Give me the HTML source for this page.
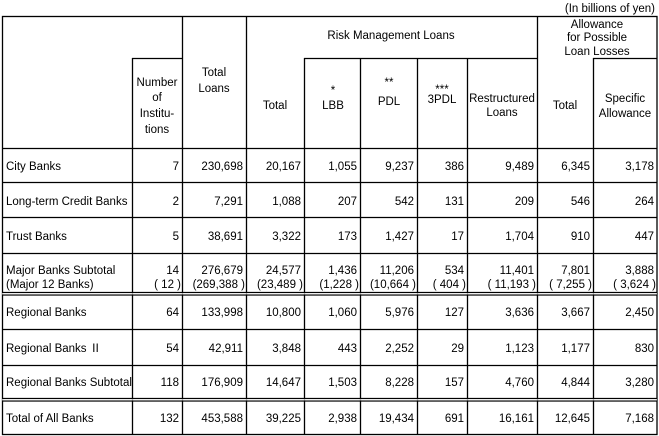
<!DOCTYPE html>
<html><head><meta charset="utf-8"><style>
html,body{margin:0;padding:0;background:#fff;}
svg{display:block;}
text{font-family:"Liberation Sans","Noto Sans CJK JP",sans-serif;font-size:11.5px;fill:#000;}
.r{text-anchor:end}.c{text-anchor:middle}
</style></head><body>
<svg width="659" height="436" xmlns="http://www.w3.org/2000/svg">
<g stroke="#000" stroke-width="1.3" fill="none">
<rect x="2.5" y="16.5" width="654.5" height="418"/>
<line x1="182.5" y1="16" x2="182.5" y2="435"/>
<line x1="246.5" y1="16" x2="246.5" y2="435"/>
<line x1="537.5" y1="16" x2="537.5" y2="435"/>
<line x1="132.5" y1="58" x2="132.5" y2="435"/>
<line x1="304.5" y1="58" x2="304.5" y2="435"/>
<line x1="360.5" y1="58" x2="360.5" y2="435"/>
<line x1="417.5" y1="58" x2="417.5" y2="435"/>
<line x1="467.5" y1="58" x2="467.5" y2="435"/>
<line x1="593.5" y1="58" x2="593.5" y2="435"/>
<line x1="132" y1="58.5" x2="182" y2="58.5"/>
<line x1="304" y1="58.5" x2="537" y2="58.5"/>
<line x1="593" y1="58.5" x2="657" y2="58.5"/>
<line x1="2" y1="148.5" x2="657" y2="148.5"/>
<line x1="2" y1="182.5" x2="657" y2="182.5"/>
<line x1="2" y1="217.5" x2="657" y2="217.5"/>
<line x1="2" y1="253.5" x2="657" y2="253.5"/>
<line x1="2" y1="292.5" x2="657" y2="292.5"/>
<line x1="2" y1="295" x2="657" y2="295"/>
<line x1="2" y1="329.5" x2="657" y2="329.5"/>
<line x1="2" y1="365.5" x2="657" y2="365.5"/>
<line x1="2" y1="398.5" x2="657" y2="398.5"/>
<line x1="2" y1="401" x2="657" y2="401"/>
</g>
<rect x="2" y="293.3" width="655" height="1" fill="#fff"/>
<rect x="2" y="399.3" width="655" height="1" fill="#fff"/>
<text class="r" x="655" y="12">(In billions of yen)</text>
<text class="c" x="391" y="39">Risk Management Loans</text>
<text class="c" x="597" y="28">Allowance</text>
<text class="c" x="597" y="41">for Possible</text>
<text class="c" x="597" y="55">Loan Losses</text>
<text class="c" x="157" y="86">Number</text>
<text class="c" x="157" y="101">of</text>
<text class="c" x="157" y="117">Institu-</text>
<text class="c" x="157" y="133">tions</text>
<text class="c" x="214" y="76">Total</text>
<text class="c" x="214" y="92">Loans</text>
<text class="c" x="275" y="109">Total</text>
<text class="c" x="333" y="94">*</text>
<text class="c" x="333" y="109">LBB</text>
<text class="c" x="389" y="86">**</text>
<text class="c" x="389" y="105">PDL</text>
<text class="c" x="442" y="93">***</text>
<text class="c" x="442" y="103">3PDL</text>
<text class="c" x="502" y="102">Restructured</text>
<text class="c" x="502" y="116">Loans</text>
<text class="c" x="565" y="109">Total</text>
<text class="c" x="625" y="102">Specific</text>
<text class="c" x="625" y="117">Allowance</text>

<g>
<text x="6" y="170">City Banks</text>
<text x="6" y="205">Long-term Credit Banks</text>
<text x="6" y="240">Trust Banks</text>
<text x="6" y="274">Major Banks Subtotal</text>
<text x="6" y="288">(Major 12 Banks)</text>
<text x="6" y="316">Regional Banks</text>
<text x="6" y="352">Regional Banks Ⅱ</text>
<text x="6" y="386">Regional Banks Subtotal</text>
<text x="6" y="422">Total of All Banks</text>
</g>
<g>
<text class="r" x="179" y="170">7</text><text class="r" x="243" y="170">230,698</text><text class="r" x="301" y="170">20,167</text><text class="r" x="357" y="170">1,055</text><text class="r" x="414" y="170">9,237</text><text class="r" x="464" y="170">386</text><text class="r" x="534" y="170">9,489</text><text class="r" x="590" y="170">6,345</text><text class="r" x="654" y="170">3,178</text>
<text class="r" x="179" y="205">2</text><text class="r" x="243" y="205">7,291</text><text class="r" x="301" y="205">1,088</text><text class="r" x="357" y="205">207</text><text class="r" x="414" y="205">542</text><text class="r" x="464" y="205">131</text><text class="r" x="534" y="205">209</text><text class="r" x="590" y="205">546</text><text class="r" x="654" y="205">264</text>
<text class="r" x="179" y="240">5</text><text class="r" x="243" y="240">38,691</text><text class="r" x="301" y="240">3,322</text><text class="r" x="357" y="240">173</text><text class="r" x="414" y="240">1,427</text><text class="r" x="464" y="240">17</text><text class="r" x="534" y="240">1,704</text><text class="r" x="590" y="240">910</text><text class="r" x="654" y="240">447</text>
<text class="r" x="179" y="274">14</text><text class="r" x="243" y="274">276,679</text><text class="r" x="301" y="274">24,577</text><text class="r" x="357" y="274">1,436</text><text class="r" x="414" y="274">11,206</text><text class="r" x="464" y="274">534</text><text class="r" x="534" y="274">11,401</text><text class="r" x="590" y="274">7,801</text><text class="r" x="654" y="274">3,888</text>
<text class="r" x="181" y="288">( 12 )</text><text class="r" x="245" y="288">(269,388 )</text><text class="r" x="303" y="288">(23,489 )</text><text class="r" x="359" y="288">(1,228 )</text><text class="r" x="416" y="288">(10,664 )</text><text class="r" x="466" y="288">( 404 )</text><text class="r" x="536" y="288">( 11,193 )</text><text class="r" x="592" y="288">( 7,255 )</text><text class="r" x="656" y="288">( 3,624 )</text>
<text class="r" x="179" y="316">64</text><text class="r" x="243" y="316">133,998</text><text class="r" x="301" y="316">10,800</text><text class="r" x="357" y="316">1,060</text><text class="r" x="414" y="316">5,976</text><text class="r" x="464" y="316">127</text><text class="r" x="534" y="316">3,636</text><text class="r" x="590" y="316">3,667</text><text class="r" x="654" y="316">2,450</text>
<text class="r" x="179" y="352">54</text><text class="r" x="243" y="352">42,911</text><text class="r" x="301" y="352">3,848</text><text class="r" x="357" y="352">443</text><text class="r" x="414" y="352">2,252</text><text class="r" x="464" y="352">29</text><text class="r" x="534" y="352">1,123</text><text class="r" x="590" y="352">1,177</text><text class="r" x="654" y="352">830</text>
<text class="r" x="179" y="386">118</text><text class="r" x="243" y="386">176,909</text><text class="r" x="301" y="386">14,647</text><text class="r" x="357" y="386">1,503</text><text class="r" x="414" y="386">8,228</text><text class="r" x="464" y="386">157</text><text class="r" x="534" y="386">4,760</text><text class="r" x="590" y="386">4,844</text><text class="r" x="654" y="386">3,280</text>
<text class="r" x="179" y="422">132</text><text class="r" x="243" y="422">453,588</text><text class="r" x="301" y="422">39,225</text><text class="r" x="357" y="422">2,938</text><text class="r" x="414" y="422">19,434</text><text class="r" x="464" y="422">691</text><text class="r" x="534" y="422">16,161</text><text class="r" x="590" y="422">12,645</text><text class="r" x="654" y="422">7,168</text>
</g>
</svg>
</body></html>
